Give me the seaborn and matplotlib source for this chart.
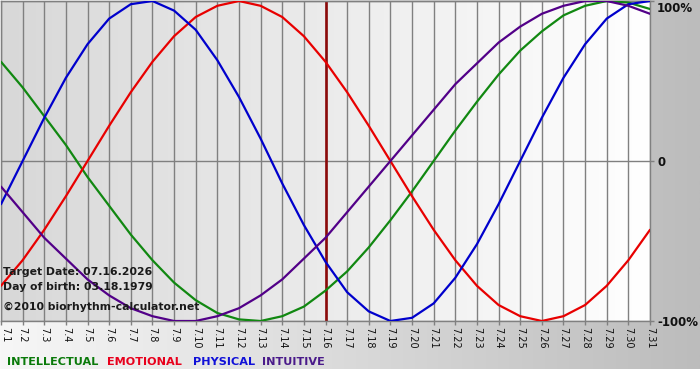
import numpy as np
import pandas as pd
import matplotlib
matplotlib.use("Agg")
import matplotlib.pyplot as plt
import seaborn as sns
from matplotlib import transforms
from matplotlib.colors import LinearSegmentedColormap

# ---- data ----
days = list(range(1, 32))
day_labels = [f"7.{d}" for d in days]

intellectual = [0.62, 0.46, 0.28, 0.10, -0.10, -0.28, -0.46, -0.62, -0.76, -0.87,
                -0.95, -0.99, -1.00, -0.97, -0.91, -0.81, -0.69, -0.54, -0.37, -0.19,
                0.00, 0.19, 0.37, 0.54, 0.69, 0.81, 0.91, 0.97, 1.00, 0.99, 0.95]
emotional = [-0.78, -0.62, -0.43, -0.22, 0.00, 0.22, 0.43, 0.62, 0.78, 0.90,
             0.97, 1.00, 0.97, 0.90, 0.78, 0.62, 0.43, 0.22, 0.00, -0.22,
             -0.43, -0.62, -0.78, -0.90, -0.97, -1.00, -0.97, -0.90, -0.78, -0.62, -0.43]
physical = [-0.27, 0.00, 0.27, 0.52, 0.73, 0.89, 0.98, 1.00, 0.94, 0.82,
            0.63, 0.40, 0.14, -0.14, -0.40, -0.63, -0.82, -0.94, -1.00, -0.98,
            -0.89, -0.73, -0.52, -0.27, 0.00, 0.27, 0.52, 0.73, 0.89, 0.98, 1.00]
intuitive = [-0.16, -0.32, -0.48, -0.61, -0.74, -0.84, -0.92, -0.97, -1.00, -1.00,
             -0.97, -0.92, -0.84, -0.74, -0.61, -0.48, -0.32, -0.16, 0.00, 0.16,
             0.32, 0.48, 0.61, 0.74, 0.84, 0.92, 0.97, 1.00, 1.00, 0.97, 0.92]

series_names = ["INTELLECTUAL", "EMOTIONAL", "PHYSICAL", "INTUITIVE"]
series_values = [intellectual, emotional, physical, intuitive]
series_colors = ["#118811", "#e80000", "#0000cc", "#520088"]
legend_colors = ["#0a7a0a", "#e8001c", "#1010d8", "#4a1a8a"]

target_day = 16
y_ticks = [1, 0, -1]
y_tick_labels = ["100%", "0", "-100%"]
info_lines = ["Target Date: 07.16.2026", "Day of birth: 03.18.1979",
              "\u00a92010 biorhythm-calculator.net"]

# ---- table ----
df = pd.DataFrame({
    "day": days * len(series_names),
    "value": sum(series_values, []),
    "series": [n for n in series_names for _ in days],
})

sns.set_theme(style="white")
plt.rcParams["font.family"] = ["DejaVu Sans"]

W, H = 700, 380
fig = plt.figure(figsize=(W / 100, H / 100), dpi=100)
fig.patch.set_facecolor("white")

# figure background gradient (light left -> gray right)
bg = fig.add_axes([0, 11 / H, 1, 1 - 11 / H], zorder=-5)
grad = np.linspace(0, 1, 256).reshape(1, -1)
bg_cmap = LinearSegmentedColormap.from_list("bg", ["#f7f7f7", "#bcbcbc"])
bg.imshow(grad, extent=[0, 1, 0, 1], aspect="auto", cmap=bg_cmap)
bg.axis("off")

# plot area
ax = fig.add_axes([1 / W, 59 / H, 649 / W, 320 / H])
pa_cmap = LinearSegmentedColormap.from_list("pa", ["#d8d8d8", "#ffffff"])
ax.imshow(grad, extent=[days[0], days[-1], -1, 1], aspect="auto",
          cmap=pa_cmap, zorder=0)

ax.axvline(target_day, color="#8b0a0a", lw=1.9, zorder=2)

sns.lineplot(data=df, x="day", y="value", hue="series", hue_order=series_names,
             palette=dict(zip(series_names, series_colors)), linewidth=1.6,
             legend=False, ax=ax, estimator=None, zorder=3)

ax.set_xlim(days[0], days[-1])
ax.set_ylim(-1, 1)
ax.set_xlabel("")
ax.set_ylabel("")
ax.set_xticks(days)
ax.set_xticklabels(day_labels, rotation=-90, fontsize=7)
ax.tick_params(axis="x", length=3, width=1, color="#808080", pad=1,
               labelcolor="#111111", bottom=True)
# keep the first (edge) label inside the picture
first = ax.get_xticklabels()[0]
first.set_transform(first.get_transform() +
                    transforms.ScaledTranslation(4 / 100, 0, fig.dpi_scale_trans))
ax.set_yticks(y_ticks)
ax.yaxis.tick_right()
ax.tick_params(axis="y", length=3, width=1, color="#808080",
               labelright=False, labelleft=False, right=True)
ax.set_axisbelow(True)
ax.grid(True, color="#808080", lw=1)
for s in ax.spines.values():
    s.set_color("#808080")
    s.set_linewidth(1)

# right-side percentage labels
blend = transforms.blended_transform_factory(ax.transAxes, ax.transData)
offsets = [-7.5, -1.5, -1.0]
for v, lab, dy in zip(y_ticks, y_tick_labels, offsets):
    ax.text(1.0, v, lab, transform=transforms.offset_copy(blend, fig, x=7, y=dy, units="dots"),
            ha="left", va="center", fontsize=8.5, fontweight="bold", color="#111111",
            clip_on=False)

# info text lower-left
for txt, yp in zip(info_lines, [272, 287, 307]):
    fig.text(3 / W, 1 - yp / H, txt, ha="left", va="center", fontsize=7.8,
             fontweight="bold", color="#1a1a1a")

# coloured legend words
for name, col, xp in zip(series_names, legend_colors, [7, 107, 193, 262]):
    fig.text(xp / W, 1 - 362 / H, name, ha="left", va="center", fontsize=8.1,
             fontweight="bold", color=col)

fig.savefig("out.png", dpi=100)
